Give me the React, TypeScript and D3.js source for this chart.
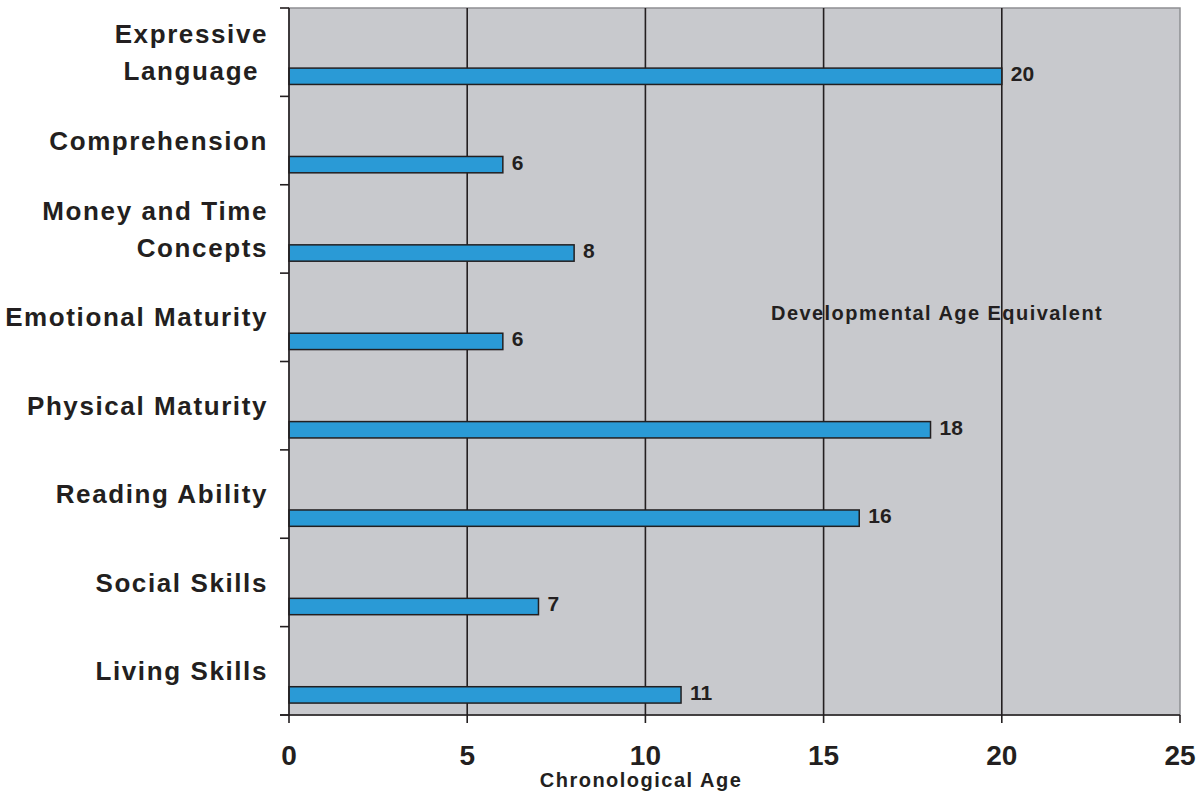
import React from "react";
import * as d3 from "d3";

const categories = [
  "Expressive Language ",
  "Comprehension",
  "Money and Time Concepts",
  "Emotional Maturity",
  "Physical Maturity",
  "Reading Ability",
  "Social Skills",
  "Living Skills",
];
const labelLines: string[][] = [
  ["Expressive", "Language "],
  ["Comprehension"],
  ["Money and Time", "Concepts"],
  ["Emotional Maturity"],
  ["Physical Maturity"],
  ["Reading Ability"],
  ["Social Skills"],
  ["Living Skills"],
];
const values = [20, 6, 8, 6, 18, 16, 7, 11];
const xTicks = [0, 5, 10, 15, 20, 25];
const xTitle = "Chronological Age";
const seriesLabel = "Developmental Age Equivalent";

const W = 1200;
const H = 791;
const left = 289;
const right = 1180;
const top = 8;
const bottom = 715;
const ink = "#231f20";
const font = "'Liberation Sans', Arial, Helvetica, sans-serif";

export default function App() {
  const x = d3.scaleLinear().domain([0, 25]).range([left, right]);
  const y = d3.scaleBand().domain(categories).range([top, bottom]).padding(0);
  const bw = y.bandwidth();
  const bandEdges = d3.range(categories.length + 1).map((i) => top + i * bw);

  return (
    <svg
      width={W}
      height={H}
      style={{ position: "absolute", left: 0, top: 0, display: "block" }}
      fontFamily={font}
    >
      <rect x={0} y={0} width={W} height={H} fill="#ffffff" />
      <rect x={left} y={top} width={right - left} height={bottom - top} fill="#c8c9cd" stroke="#8e8f92" strokeWidth={1.5} />
      {xTicks.slice(1, -1).map((t) => (
        <line key={t} x1={x(t)} x2={x(t)} y1={top} y2={bottom} stroke={ink} strokeWidth={1.6} />
      ))}
      {/* bars */}
      {categories.map((c, i) => (
        <rect
          key={c}
          x={x(0)}
          y={(y(c) as number) + bw * 0.68}
          width={x(values[i]) - x(0)}
          height={bw * 0.185}
          fill="#2a9ad6"
          stroke={ink}
          strokeWidth={1.5}
        />
      ))}
      {/* value labels */}
      {categories.map((c, i) => (
        <text
          key={c}
          x={x(values[i]) + 9}
          y={(y(c) as number) + bw * 0.745}
          dy="0.35em"
          fontSize={21}
          fontWeight="bold"
          fill={ink}
        >
          {values[i]}
        </text>
      ))}
      {/* axes */}
      <line x1={left} x2={left} y1={top} y2={bottom} stroke={ink} strokeWidth={1.6} />
      <line x1={left - 9} x2={right} y1={bottom} y2={bottom} stroke={ink} strokeWidth={1.6} />
      {bandEdges.map((e, i) => (
        <line key={i} x1={left - 9} x2={left} y1={e} y2={e} stroke={ink} strokeWidth={1.6} />
      ))}
      {xTicks.map((t) => (
        <line key={t} x1={x(t)} x2={x(t)} y1={bottom} y2={bottom + 8} stroke={ink} strokeWidth={1.6} />
      ))}
      {xTicks.map((t) => (
        <text key={t} x={x(t)} y={bottom + 40} dy="0.35em" textAnchor="middle" fontSize={28} fontWeight="bold" fill={ink}>
          {t}
        </text>
      ))}
      <text x={641} y={780} dy="0.35em" textAnchor="middle" fontSize={20} fontWeight="bold" fill={ink} letterSpacing={1.5}>
        {xTitle}
      </text>
      {/* category labels */}
      {categories.map((c, i) => {
        const lines = labelLines[i];
        const cy = (y(c) as number) + bw / 2;
        const gap = 37;
        return lines.map((ln, j) => (
          <text
            key={c + j}
            x={268}
            y={cy + (j - (lines.length - 1) / 2) * gap}
            dy="0.35em"
            textAnchor="end"
            fontSize={26}
            fontWeight="bold"
            fill={ink}
            letterSpacing={1.6}
            style={{ whiteSpace: "pre" }}
          >
            {ln}
          </text>
        ));
      })}
      <text x={771} y={313} dy="0.35em" fontSize={20} fontWeight="bold" fill={ink} letterSpacing={1.45}>
        {seriesLabel}
      </text>
    </svg>
  );
}
